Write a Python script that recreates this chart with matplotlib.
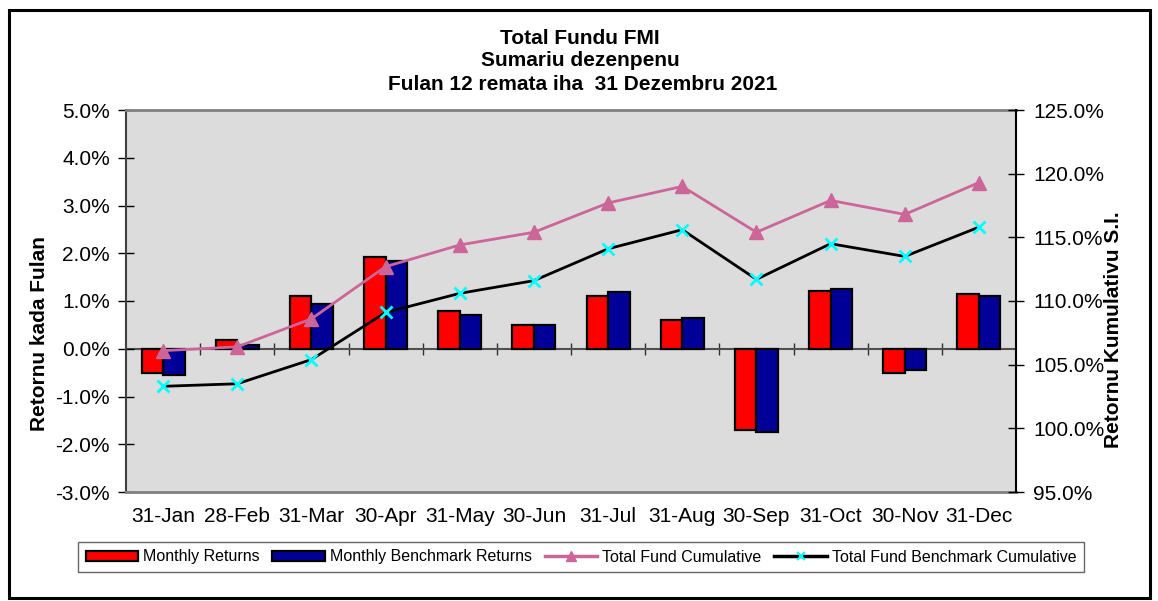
import numpy as np
import matplotlib.pyplot as plt
from matplotlib.patches import Rectangle, Patch
from matplotlib.lines import Line2D
from matplotlib.ticker import PercentFormatter

plt.rcParams['font.family'] = ['Liberation Sans', 'DejaVu Sans']
plt.rcParams['axes.unicode_minus'] = False

# data
months = ["31-Jan", "28-Feb", "31-Mar", "30-Apr", "31-May", "30-Jun",
          "31-Jul", "31-Aug", "30-Sep", "31-Oct", "30-Nov", "31-Dec"]
monthly_returns = [-0.50, 0.18, 1.10, 1.93, 0.80, 0.49, 1.10, 0.60, -1.70, 1.21, -0.50, 1.15]
monthly_bench = [-0.55, 0.08, 0.94, 1.84, 0.71, 0.50, 1.18, 0.64, -1.74, 1.26, -0.44, 1.10]
fund_cum = [106.1, 106.4, 108.6, 112.7, 114.4, 115.4, 117.7, 119.0, 115.4, 117.9, 116.8, 119.3]
bench_cum = [103.3, 103.5, 105.4, 109.1, 110.6, 111.6, 114.1, 115.6, 111.7, 114.5, 113.5, 115.8]

W, H = 1158, 601
fig = plt.figure(figsize=(W / 100, H / 100), dpi=100)

# outer chart border
fig.patches.append(Rectangle((9 / W, 1 - 598 / H), 1141 / W, 588 / H, transform=fig.transFigure,
                             fill=False, edgecolor="black", linewidth=2.2))

ax = fig.add_axes([126 / W, 1 - 492 / H, 890 / W, 382 / H])
ax.set_facecolor("#DCDCDC")

x = np.arange(len(months))
bw = 0.29
ax.bar(x - bw / 2, monthly_returns, bw, color="#FF0000", edgecolor="black", linewidth=1.6, zorder=3)
ax.bar(x + bw / 2, monthly_bench, bw, color="#000099", edgecolor="black", linewidth=1.6, zorder=3)

ax.set_xlim(-0.5, len(months) - 0.5)
ax.set_ylim(-3, 5)
ax.set_yticks(np.arange(-3, 5.01, 1))
ax.yaxis.set_major_formatter(PercentFormatter(decimals=1))
ax.set_xticks(x)
ax.set_xticklabels(months)
ax.tick_params(axis="x", length=0, pad=11, labelsize=15)
ax.tick_params(axis="y", direction="inout", length=11, width=1, pad=6, labelsize=15)

for s in ["top", "bottom"]:
    ax.spines[s].set_color("#808080")
    ax.spines[s].set_linewidth(2)
ax.spines["left"].set_color("#404040")
ax.spines["left"].set_linewidth(1.5)
ax.spines["right"].set_visible(False)

# category axis crossing at zero
zero_pos = (0 - ax.get_ylim()[0]) / (ax.get_ylim()[1] - ax.get_ylim()[0])
sec = ax.secondary_xaxis(zero_pos)
sec.set_xticks(np.arange(0.5, len(months) - 0.5, 1))
sec.tick_params(direction="inout", length=9, width=1, labelbottom=False, labeltop=False, colors="#303030")
sec.spines["bottom"].set_color("#505050")
sec.spines["bottom"].set_linewidth(1.5)
sec.spines["top"].set_visible(False)

ax.set_ylabel("Retornu kada Fulan", fontsize=15, fontweight="bold", va="center")
ax.yaxis.set_label_coords(-0.097, 0.415)

ax2 = ax.twinx()
ax2.plot(x, fund_cum, color="#CC6699", linewidth=2, marker="^", markersize=10,
         markerfacecolor="#CC6699", markeredgecolor="#CC6699", zorder=4)
ax2.plot(x, bench_cum, color="black", linewidth=2, marker="x", markersize=9,
         markeredgecolor="#00FFFF", markeredgewidth=2, zorder=4)
ax2.set_ylim(95, 125)
ax2.set_yticks(np.arange(95, 125.1, 5))
ax2.yaxis.set_major_formatter(PercentFormatter(decimals=1))
ax2.tick_params(axis="y", direction="inout", length=11, width=1, pad=7, labelsize=15)
ax2.spines["right"].set_color("black")
ax2.spines["right"].set_linewidth(1.5)
for s in ["top", "bottom", "left"]:
    ax2.spines[s].set_visible(False)
ax2.set_ylabel("Retornu Kumulativu S.I.", fontsize=15, fontweight="bold", va="center")
ax2.yaxis.set_label_coords(1.109, 0.425)

fig.text(580 / W, 1 - 38 / H, "Total Fundu FMI", ha="center", va="center", fontsize=15, fontweight="bold")
fig.text(580 / W, 1 - 61 / H, "Sumariu dezenpenu", ha="center", va="center", fontsize=15, fontweight="bold")
fig.text(583 / W, 1 - 85 / H, "Fulan 12 remata iha  31 Dezembru 2021", ha="center", va="center",
         fontsize=15, fontweight="bold")

handles = [
    Patch(facecolor="#FF0000", edgecolor="black", linewidth=1.6),
    Patch(facecolor="#000099", edgecolor="black", linewidth=1.6),
    Line2D([], [], color="#CC6699", linewidth=2.5, marker="^", markersize=7, markeredgecolor="#CC6699"),
    Line2D([], [], color="black", linewidth=2.5, marker="x", markersize=6, markeredgecolor="#00FFFF",
           markeredgewidth=1.5),
]
labels = ["Monthly Returns", "Monthly Benchmark Returns", "Total Fund Cumulative",
          "Total Fund Benchmark Cumulative"]
leg = fig.legend(handles, labels, loc="center", bbox_to_anchor=(581 / W, 1 - 557 / H), ncol=4,
                 fontsize=11.5, frameon=True, fancybox=False, edgecolor="#404040", handlelength=3.3,
                 handleheight=0.55, handletextpad=0.3, columnspacing=0.8, borderpad=0.45)
leg.get_frame().set_linewidth(1)

fig.savefig("out.png", dpi=100)
